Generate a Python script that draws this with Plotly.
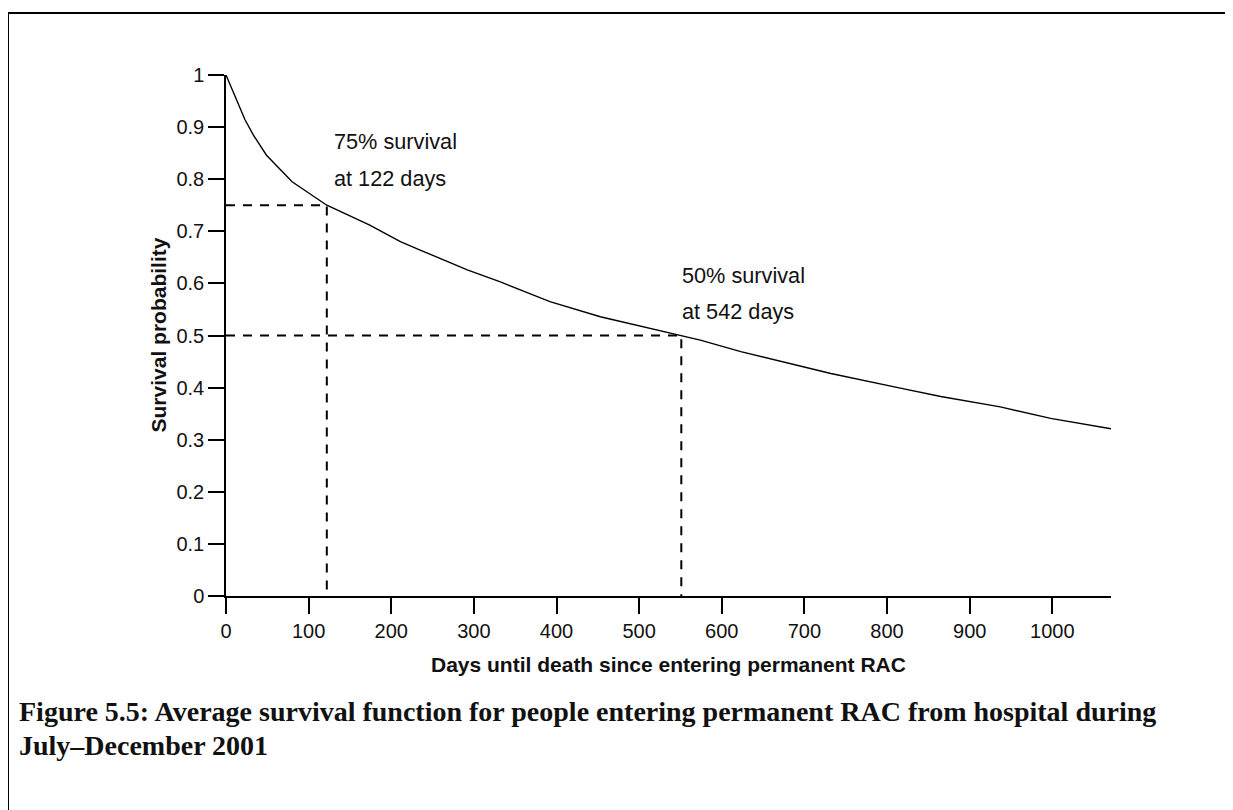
import plotly.graph_objects as go

# Survival curve
days = [0, 23, 33, 49, 80, 122, 174, 211, 235, 292, 332, 392, 453, 514, 551,
        574, 623, 732, 816, 865, 937, 998, 1071]
survival = [1.0, 0.914, 0.885, 0.846, 0.795, 0.750, 0.712, 0.680, 0.664, 0.626,
            0.603, 0.565, 0.536, 0.514, 0.500, 0.491, 0.469, 0.427, 0.399, 0.383,
            0.363, 0.341, 0.321]

# Reference points (dashed guides)
ref_days = [122, 551]
ref_surv = [0.75, 0.50]
ref_labels = [["75% survival", "at 122 days"], ["50% survival", "at 542 days"]]
ref_label_pos = [(128, 0.872, 0.802), (550, 0.616, 0.546)]

x_ticks = list(range(0, 1001, 100))
y_ticks = [round(i / 10, 1) for i in range(0, 11)]
y_ticktext = ["0", "0.1", "0.2", "0.3", "0.4", "0.5", "0.6", "0.7", "0.8", "0.9", "1"]

x_title = "Days until death since entering permanent RAC"
y_title = "Survival probability"
caption1 = "Figure 5.5: Average survival function for people entering permanent RAC from hospital during"
caption2 = "July–December 2001"

W, H = 1233, 810
OFF = 8  # page body margin offset
L, R, T, B = 218, 130, 67, 222
pw, ph = W - L - R, H - T - B

def px_x(px):
    return (px - OFF - L) / pw

def px_y(py):
    return (H - B - (py - OFF)) / ph

SANS = "Liberation Sans, Arial, sans-serif"
SERIF = "Liberation Serif, Times New Roman, serif"

fig = go.Figure()

for d, s in zip(ref_days, ref_surv):
    fig.add_trace(go.Scatter(
        x=[0, d, d], y=[s, s, 0], mode="lines",
        line=dict(color="black", width=2, dash="9px,8px"),
        hoverinfo="skip", showlegend=False, cliponaxis=False))

fig.add_trace(go.Scatter(
    x=days, y=survival, mode="lines",
    line=dict(color="black", width=1.4),
    showlegend=False, cliponaxis=False))

annotations = []
for (lx, y1, y2), (t1, t2) in zip(ref_label_pos, ref_labels):
    for yy, tt in ((y1, t1), (y2, t2)):
        annotations.append(dict(
            x=lx, y=yy, xref="x", yref="y", text=tt, showarrow=False,
            xanchor="left", yanchor="middle",
            font=dict(family=SANS, size=21.7, color="#111")))

annotations.append(dict(
    x=0.5, y=px_y(664), xref="paper", yref="paper", text="<b>" + x_title + "</b>",
    showarrow=False, xanchor="center", yanchor="middle",
    font=dict(family=SANS, size=21, color="#111")))
annotations.append(dict(
    x=px_x(158), y=0.5, xref="paper", yref="paper", text="<b>" + y_title + "</b>",
    showarrow=False, xanchor="center", yanchor="middle", textangle=-90,
    font=dict(family=SANS, size=21, color="#111")))
annotations.append(dict(
    x=px_x(17), y=px_y(711), xref="paper", yref="paper", text="<b>" + caption1 + "</b>",
    showarrow=False, xanchor="left", yanchor="middle",
    font=dict(family=SERIF, size=28, color="#111")))
annotations.append(dict(
    x=px_x(17), y=px_y(745), xref="paper", yref="paper", text="<b>" + caption2 + "</b>",
    showarrow=False, xanchor="left", yanchor="middle",
    font=dict(family=SERIF, size=28, color="#111")))

shapes = [
    dict(type="line", xref="paper", yref="paper", x0=px_x(8), x1=px_x(1300),
         y0=px_y(13), y1=px_y(13), line=dict(color="black", width=2)),
    dict(type="line", xref="paper", yref="paper", x0=px_x(8), x1=px_x(8),
         y0=px_y(13), y1=px_y(900), line=dict(color="black", width=2)),
]

axis_common = dict(
    showline=True, linecolor="black", linewidth=1.5,
    ticks="outside", ticklen=16, tickwidth=1.5, tickcolor="black",
    showgrid=False, zeroline=False,
    tickfont=dict(family=SANS, size=20, color="#111"),
)

fig.update_layout(
    width=W, height=H,
    margin=dict(l=L, r=R, t=T, b=B),
    paper_bgcolor="white", plot_bgcolor="white",
    xaxis=dict(range=[0, 1071], tickvals=x_ticks, **axis_common),
    yaxis=dict(range=[0, 1], tickvals=y_ticks, ticktext=y_ticktext, **axis_common),
    annotations=annotations, shapes=shapes,
)

fig.write_html("out.html")
